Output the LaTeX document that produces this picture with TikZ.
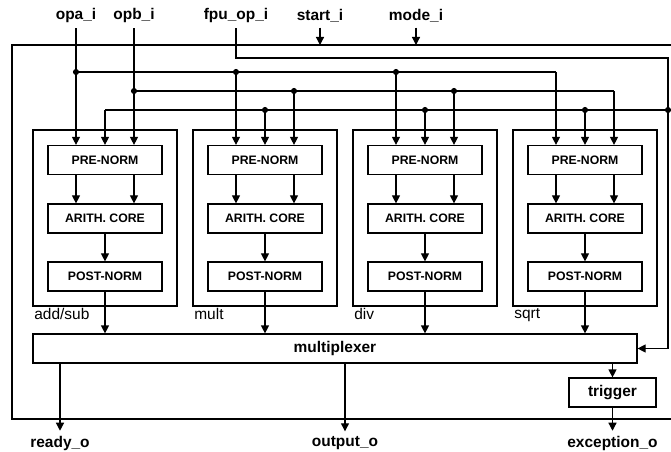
\documentclass[tikz,border=0pt]{standalone}
\usepackage{fontspec}
\setmainfont{Liberation Sans}
\usetikzlibrary{arrows.meta}

\begin{document}
\begin{tikzpicture}[x=0.75pt, y=-0.75pt, line width=0.9pt,
>={Triangle[length=6pt,width=6pt]},
unit/.style = {draw, minimum width=108pt, minimum height=132pt},
stage/.style = {draw, inner sep=0pt, minimum width=85.5pt, minimum height=21.75pt,
	font=\fontsize{9.2}{11}\selectfont\bfseries},
block/.style = {draw, inner sep=0pt, minimum height=21.75pt,
	font=\fontsize{11.6}{14}\selectfont\bfseries},
sig/.style = {font=\fontsize{11.6}{14}\selectfont\bfseries}]
\useasboundingbox (0,0) rectangle (671,452);
\draw[line width=1.4pt] (12,45) rectangle (672,419);

% pins
\node[sig] (opa) at (76,16) {opa\_i};
\node[sig] (opb) at (134,16) {opb\_i};
\node[sig] (fpuop) at (236,16) {fpu\_op\_i};
\node[sig] (start) at (320,16) {start\_i};
\node[sig] (mode) at (416,16) {mode\_i};
\node[sig] (ready) at (60,443) {ready\_o};
\node[sig] (output) at (345,443) {output\_o};
\node[sig] (exc) at (612.5,443) {exception\_o};

\coordinate (ftop) at (0,45);
\coordinate (busf) at (0,58);
\coordinate (busa) at (0,72);
\coordinate (busb) at (0,91);
\coordinate (busop) at (0,110);
\coordinate (sel) at (668,0);

\node[block, minimum width=453pt] (mux) at (335,348.5) {multiplexer};
\node[block, minimum width=65.25pt] (trig) at (612.5,392.5) {trigger};

% the four units
\foreach \m/\x/\lab in {add/105/add\slash sub, mult/265/mult, div/425/div, sqrt/585/sqrt} {
  \node[unit, label={[anchor=north west, inner sep=1pt,
    font=\fontsize{11.6}{14}\selectfont]south west:\lab}] (\m) at (\x,218) {};
  \node[stage] (\m-pre) at (\x,160) {PRE-NORM};
  \node[stage] (\m-core) at (\x,218.5) {ARITH. CORE};
  \node[stage] (\m-post) at (\x,276.5) {POST-NORM};
  \coordinate (\m-l) at (\x-29,0);
  \coordinate (\m-r) at (\x+29,0);
  \draw[->] (\m-l |- busa) -- (\m-pre.north -| \m-l);
  \draw[->] (\m-pre.north |- busop) -- (\m-pre.north);
  \draw[->] (\m-r |- busb) -- (\m-pre.north -| \m-r);
  \draw[->] (\m-pre.south -| \m-l) -- (\m-core.north -| \m-l);
  \draw[->] (\m-pre.south -| \m-r) -- (\m-core.north -| \m-r);
  \draw[->] (\m-core) -- (\m-post);
  \draw[->] (\m-post) -- (\m-post |- mux.north);
}

% buses
\draw (opa.south) -- (add-l |- busa) -- (sqrt-l |- busa);
\draw (opb.south) -- (add-r |- busb) -- (sqrt-r |- busb);
\draw (add-pre.north |- busop) -- (sel |- busop);
\draw[->] (fpuop.south) |- (sel |- busf) |- (mux.east);
\foreach \p in {add-l |- busa, mult-l |- busa, div-l |- busa,
  add-r |- busb, mult-r |- busb, div-r |- busb,
  mult-pre.north |- busop, div-pre.north |- busop, sqrt-pre.north |- busop, sel |- busop}
  \fill (\p) circle (2.3pt);

\draw[->] (start.south) -- (start |- ftop);
\draw[->] (mode.south) -- (mode |- ftop);
\draw[->] (mux.south -| ready) -- (ready.north);
\draw[->] (mux.south -| output) -- (output.north);
\draw[->] (mux.south -| trig) -- (trig.north);
\draw[->] (trig.south) -- (exc.north);
\end{tikzpicture}
\end{document}
